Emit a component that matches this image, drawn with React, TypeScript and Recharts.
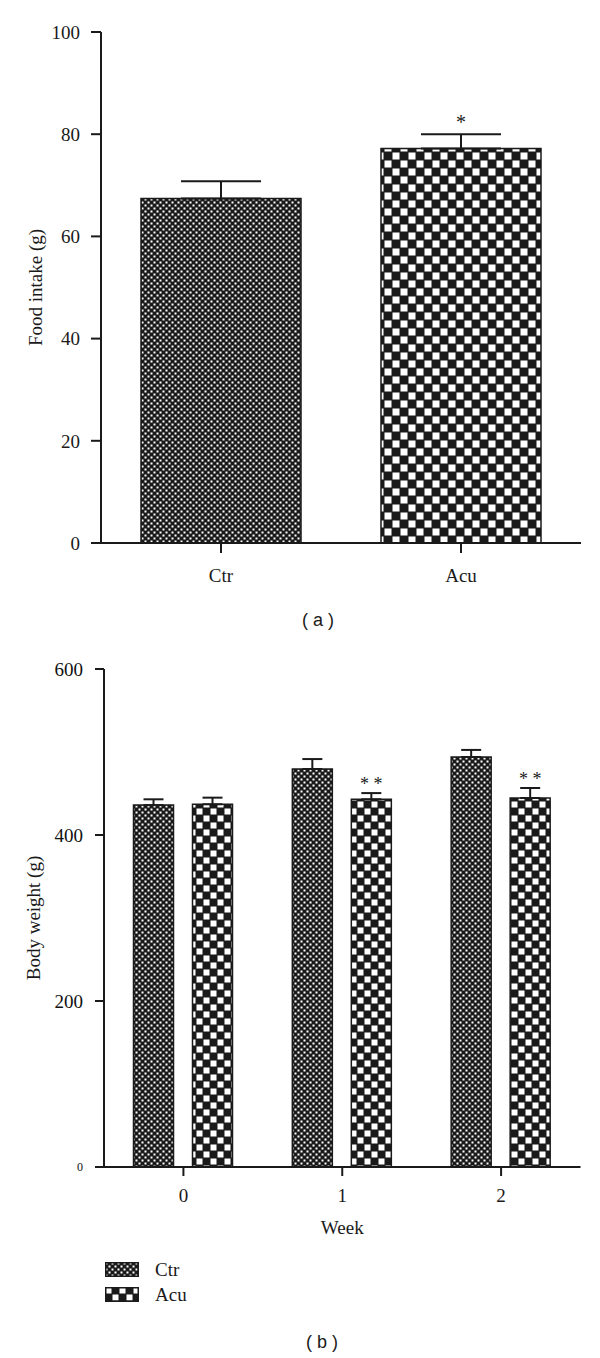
import React from 'react';
import { BarChart, Bar, XAxis, YAxis, ErrorBar, LabelList, Cell } from 'recharts';

// (a) food intake
const groups = ['Ctr', 'Acu'];
const foodIntake = [67.4, 77.2];
const foodIntakeErr = [3.4, 2.8];
const foodIntakeSig = ['', '*'];
const foodTicks = [0, 20, 40, 60, 80, 100];

// (b) body weight by week
const weeks = ['0', '1', '2'];
const ctrWeight = [436, 479.5, 494];
const ctrWeightErr = [7, 12, 8.5];
const acuWeight = [437, 443, 444.6];
const acuWeightErr = [8, 7.5, 12];
const acuWeightSig = ['', '**', '**'];
const weightTicks = [0, 200, 400, 600];

const SERIF = '"Liberation Serif", "DejaVu Serif", serif';
const INK = '#1a1a1a';

const foodData = groups.map((g, i) => ({
  group: g,
  value: foodIntake[i],
  err: [0, foodIntakeErr[i]],
  sig: foodIntakeSig[i],
}));

const weightData = weeks.map((w, i) => ({
  week: w,
  ctr: ctrWeight[i],
  ctrErr: [0, ctrWeightErr[i]],
  acu: acuWeight[i],
  acuErr: [0, acuWeightErr[i]],
  sig: acuWeightSig[i],
}));

// checkerboard fill, c = cell size, w = white square size
function Checker({ id, c, w }: { id: string; c: number; w: number }) {
  const o = (c - w) / 2;
  return (
    <pattern id={id} patternUnits="userSpaceOnUse" width={c * 2} height={c * 2}>
      <rect width={c * 2} height={c * 2} fill={INK} />
      <rect x={o} y={o} width={w} height={w} fill="#fff" />
      <rect x={c + o} y={c + o} width={w} height={w} fill="#fff" />
    </pattern>
  );
}

// stars placed just above the error cap
const sigLabel = (vals: number[], errs: number[], fontSize: number, gap: number) => (props: any) => {
  const { index, value } = props;
  if (!value) return null;
  const vb = props.viewBox || props;
  const k = vb.height / vals[index];
  const capY = vb.y - errs[index] * k;
  return (
    <text x={vb.x + vb.width / 2} y={capY - gap} textAnchor="middle" fontSize={fontSize} fontFamily={SERIF} fill={INK}>
      {String(value).split('').join(' ')}
    </text>
  );
};

const WeightTick = (props: any) => {
  const { x, y, payload } = props;
  const small = payload.value === 0;
  return (
    <text x={x} y={y} dy="0.355em" textAnchor="end" fontSize={small ? 12 : 19} fontFamily={SERIF} fill="#111">
      {payload.value}
    </text>
  );
};

// rotated y-axis title, centred on the plot height
const yTitle = (text: string, cx: number) => (props: any) => {
  const vb = props.viewBox;
  const cy = vb.y + vb.height / 2;
  return (
    <text
      x={cx}
      y={cy}
      transform={`rotate(-90 ${cx} ${cy})`}
      dy="0.355em"
      textAnchor="middle"
      fontSize={19}
      fontFamily={SERIF}
      fill={INK}
    >
      {text}
    </text>
  );
};

const xTitle = (text: string, below: number) => (props: any) => {
  const vb = props.viewBox;
  return (
    <text x={vb.x + vb.width / 2} y={vb.y + below} dy="0.355em" textAnchor="middle" fontSize={19} fontFamily={SERIF} fill={INK}>
      {text}
    </text>
  );
};

const tickStyle = { fontSize: 19, fill: INK, fontFamily: SERIF };
const axisLine = { stroke: INK, strokeWidth: 2 };
const tickLine = { stroke: INK, strokeWidth: 2 };
const captionStyle: React.CSSProperties = {
  position: 'absolute',
  fontFamily: '"Liberation Sans", Arial, sans-serif',
  fontSize: 18,
  color: INK,
  transform: 'translate(-50%, -50%)',
  whiteSpace: 'pre',
};

export default function App() {
  const legendFills = ['url(#ctrB)', 'url(#acuB)'];
  return (
    <div style={{ position: 'absolute', left: 0, top: 0, width: 600, height: 1358, background: '#fff', fontFamily: SERIF }}>
      <div style={{ position: 'absolute', left: 0, top: 0 }}>
        <BarChart width={600} height={650} data={foodData} margin={{ top: 32, right: 19, bottom: 0, left: 0 }} barCategoryGap={40}>
          <defs>
            <Checker id="ctrA" c={3} w={2} />
            <Checker id="acuA" c={8} w={7} />
          </defs>
          <XAxis
            dataKey="group"
            height={107}
            axisLine={axisLine}
            tickLine={tickLine}
            tickSize={10}
            tickMargin={16}
            tick={tickStyle}
          />
          <YAxis
            width={101}
            domain={[0, 100]}
            ticks={foodTicks}
            interval={0}
            axisLine={axisLine}
            tickLine={tickLine}
            tickSize={10}
            tickMargin={11}
            tick={tickStyle}
            label={yTitle('Food intake (g)', 35)}
          />
          <Bar dataKey="value" stroke={INK} strokeWidth={1.5} isAnimationActive={false}>
            {foodData.map((d, i) => (
              <Cell key={d.group} fill={i === 0 ? 'url(#ctrA)' : 'url(#acuA)'} />
            ))}
            <ErrorBar dataKey="err" width={40} strokeWidth={2} stroke={INK} direction="y" />
            <LabelList dataKey="sig" content={sigLabel(foodIntake, foodIntakeErr, 20, 5)} />
          </Bar>
        </BarChart>
      </div>
      <div style={{ ...captionStyle, left: 318, top: 620 }}>( a )</div>

      <div style={{ position: 'absolute', left: 0, top: 640 }}>
        <BarChart
          width={600}
          height={627}
          data={weightData}
          margin={{ top: 29, right: 19.5, bottom: 0, left: 0 }}
          barCategoryGap={29.5}
          barGap={19}
        >
          <defs>
            <Checker id="ctrB" c={3} w={2} />
            <Checker id="acuB" c={7} w={6} />
          </defs>
          <XAxis
            dataKey="week"
            height={100}
            axisLine={axisLine}
            tickLine={tickLine}
            tickSize={9}
            tickMargin={13}
            tick={tickStyle}
            label={xTitle('Week', 60)}
          />
          <YAxis
            width={104}
            domain={[0, 600]}
            ticks={weightTicks}
            interval={0}
            axisLine={axisLine}
            tickLine={tickLine}
            tickSize={9}
            tickMargin={12}
            tick={<WeightTick />}
            label={yTitle('Body weight (g)', 33)}
          />
          <Bar dataKey="ctr" name="Ctr" fill="url(#ctrB)" stroke={INK} strokeWidth={1.5} isAnimationActive={false}>
            <ErrorBar dataKey="ctrErr" width={10} strokeWidth={2} stroke={INK} direction="y" />
          </Bar>
          <Bar dataKey="acu" name="Acu" fill="url(#acuB)" stroke={INK} strokeWidth={1.5} isAnimationActive={false}>
            <ErrorBar dataKey="acuErr" width={10} strokeWidth={2} stroke={INK} direction="y" />
            <LabelList dataKey="sig" content={sigLabel(acuWeight, acuWeightErr, 18, 3)} />
          </Bar>
        </BarChart>
      </div>

      {groups.map((g, i) => (
        <div key={g} style={{ position: 'absolute', left: 105, top: 1262 + i * 25, height: 15, display: 'flex', alignItems: 'center' }}>
          <svg width={34} height={15} style={{ display: 'block' }}>
            <rect x={0.75} y={0.75} width={32.5} height={13.5} fill={legendFills[i]} stroke={INK} strokeWidth={1.5} />
          </svg>
          <span style={{ marginLeft: 16, fontSize: 19, color: INK, lineHeight: '15px' }}>{g}</span>
        </div>
      ))}
      <div style={{ ...captionStyle, left: 322, top: 1342 }}>( b )</div>
    </div>
  );
}
